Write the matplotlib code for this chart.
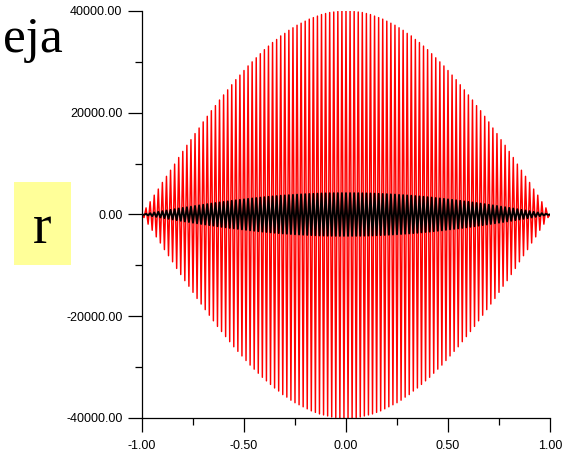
import numpy as np
import matplotlib
matplotlib.use("Agg")
import matplotlib.pyplot as plt
from matplotlib.patches import Rectangle
from matplotlib.ticker import MultipleLocator, FormatStrFormatter

# samples from x = -1.00 to 1.00 in steps of 0.01
x_vals = np.linspace(-1.0, 1.0, 201)

red_vals = [
    0, -600, 1300, -1900, 2500, -3100, 3800, -4400, 5000, -5600,
    6300, -6900, 7500, -8100, 8700, -9300, 9900, -10600, 11200, -11800,
    12400, -13000, 13600, -14100, 14700, -15300, 15900, -16500, 17000, -17600,
    18200, -18700, 19300, -19800, 20400, -20900, 21400, -22000, 22500, -23000,
    23500, -24000, 24500, -25000, 25500, -26000, 26500, -26900, 27400, -27800,
    28300, -28700, 29200, -29600, 30000, -30400, 30800, -31200, 31600, -32000,
    32400, -32700, 33100, -33400, 33800, -34100, 34400, -34700, 35100, -35400,
    35600, -35900, 36200, -36500, 36700, -37000, 37200, -37400, 37600, -37800,
    38000, -38200, 38400, -38600, 38700, -38900, 39000, -39200, 39300, -39400,
    39500, -39600, 39700, -39800, 39800, -39900, 39900, -40000, 40000, -40000,
    40000,
    -40000, 40000, -40000, 39900, -39900, 39800, -39800, 39700, -39600, 39500,
    -39400, 39300, -39200, 39000, -38900, 38700, -38600, 38400, -38200, 38000,
    -37800, 37600, -37400, 37200, -37000, 36700, -36500, 36200, -35900, 35600,
    -35400, 35100, -34700, 34400, -34100, 33800, -33400, 33100, -32700, 32400,
    -32000, 31600, -31200, 30800, -30400, 30000, -29600, 29200, -28700, 28300,
    -27800, 27400, -26900, 26500, -26000, 25500, -25000, 24500, -24000, 23500,
    -23000, 22500, -22000, 21400, -20900, 20400, -19800, 19300, -18700, 18200,
    -17600, 17000, -16500, 15900, -15300, 14700, -14100, 13600, -13000, 12400,
    -11800, 11200, -10600, 9900, -9300, 8700, -8100, 7500, -6900, 6300,
    -5600, 5000, -4400, 3800, -3100, 2500, -1900, 1300, -600, 0,
]

black_vals = [
    0, -60, 140, -200, 260, -330, 400, -460, 530, -590,
    660, -720, 790, -850, 910, -980, 1040, -1110, 1180, -1240,
    1300, -1370, 1430, -1480, 1540, -1610, 1670, -1730, 1790, -1850,
    1910, -1960, 2030, -2080, 2140, -2190, 2250, -2310, 2360, -2420,
    2470, -2520, 2570, -2630, 2680, -2730, 2780, -2820, 2880, -2920,
    2970, -3010, 3070, -3110, 3150, -3190, 3230, -3280, 3320, -3360,
    3400, -3430, 3480, -3510, 3550, -3580, 3610, -3650, 3690, -3720,
    3740, -3770, 3800, -3830, 3850, -3890, 3910, -3930, 3950, -3970,
    3990, -4010, 4030, -4050, 4060, -4080, 4100, -4120, 4130, -4140,
    4150, -4160, 4170, -4180, 4180, -4190, 4190, -4200, 4200, -4200,
    4200,
    -4200, 4200, -4200, 4190, -4190, 4180, -4180, 4170, -4160, 4150,
    -4140, 4130, -4120, 4100, -4080, 4060, -4050, 4030, -4010, 3990,
    -3970, 3950, -3930, 3910, -3890, 3850, -3830, 3800, -3770, 3740,
    -3720, 3690, -3650, 3610, -3580, 3550, -3510, 3480, -3430, 3400,
    -3360, 3320, -3280, 3230, -3190, 3150, -3110, 3070, -3010, 2970,
    -2920, 2880, -2820, 2780, -2730, 2680, -2630, 2570, -2520, 2470,
    -2420, 2360, -2310, 2250, -2190, 2140, -2080, 2030, -1960, 1910,
    -1850, 1790, -1730, 1670, -1610, 1540, -1480, 1430, -1370, 1300,
    -1240, 1180, -1110, 1040, -980, 910, -850, 790, -720, 660,
    -590, 530, -460, 400, -330, 260, -200, 140, -60, 0,
]

fig = plt.figure(figsize=(5.63, 4.54), dpi=100)
ax = fig.add_axes([0.2522, 0.0793, 0.7247, 0.8965])

ax.plot(x_vals, red_vals, color="red", linewidth=1.05, zorder=2)
ax.plot(x_vals, black_vals, color="black", linewidth=1.4, zorder=3)

ax.set_xlim(-1, 1)
ax.set_ylim(-40000, 40000)

ax.spines["top"].set_visible(False)
ax.spines["right"].set_visible(False)
ax.spines["left"].set_linewidth(0.9)
ax.spines["bottom"].set_linewidth(0.9)

ax.xaxis.set_major_locator(MultipleLocator(0.5))
ax.xaxis.set_minor_locator(MultipleLocator(0.25))
ax.yaxis.set_major_locator(MultipleLocator(20000))
ax.yaxis.set_minor_locator(MultipleLocator(10000))
ax.xaxis.set_major_formatter(FormatStrFormatter("%.2f"))
ax.yaxis.set_major_formatter(FormatStrFormatter("%.2f"))

ax.tick_params(which="major", direction="out", length=10, width=0.9, labelsize=9)
ax.tick_params(which="minor", direction="out", length=5, width=0.9)
ax.tick_params(axis="x", which="major", pad=6)
ax.tick_params(axis="y", which="major", pad=4)
for lbl in ax.get_xticklabels() + ax.get_yticklabels():
    lbl.set_fontfamily("Liberation Sans")

# leftover slide decorations
fig.text(3 / 563, 1 - 52 / 454, "eja", fontsize=37, family="Liberation Serif",
         ha="left", va="baseline")
fig.patches.append(Rectangle((14 / 563, 1 - 265 / 454), 57 / 563, 83 / 454,
                             transform=fig.transFigure, facecolor="#ffff99",
                             edgecolor="none", zorder=0))
fig.text(42 / 563, 1 - 243 / 454, "r", fontsize=40, family="Liberation Serif",
         ha="center", va="baseline")

fig.savefig("out.png", dpi=100)
plt.close(fig)
